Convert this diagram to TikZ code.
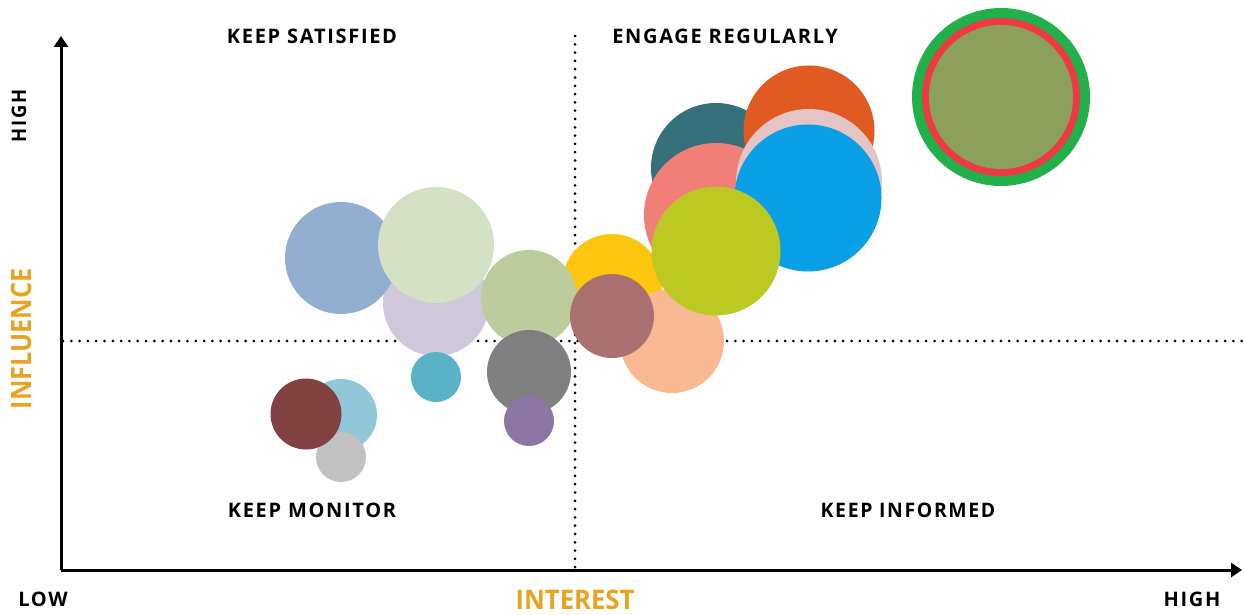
\documentclass[tikz,border=0pt]{standalone}
\usepackage{fontspec}
\setmainfont{Open Sans}
\usetikzlibrary{arrows.meta}
\definecolor{cSteel}{HTML}{92AED1}
\definecolor{cLav}{HTML}{CFC8DB}
\definecolor{cPaleGreen}{HTML}{D5E1C5}
\definecolor{cSage}{HTML}{BDCC9C}
\definecolor{cGray}{HTML}{808080}
\definecolor{cPurple}{HTML}{8C76A6}
\definecolor{cTeal}{HTML}{5AB2C6}
\definecolor{cLightBlue}{HTML}{92C7D9}
\definecolor{cMaroon}{HTML}{824242}
\definecolor{cLightGray}{HTML}{C1C1C1}
\definecolor{cYellow}{HTML}{FEC70F}
\definecolor{cMauve}{HTML}{AB7070}
\definecolor{cPeach}{HTML}{F9B993}
\definecolor{cDarkTeal}{HTML}{36707B}
\definecolor{cSalmon}{HTML}{F27E78}
\definecolor{cYGreen}{HTML}{BDC923}
\definecolor{cOrange}{HTML}{E15A22}
\definecolor{cPalePink}{HTML}{E4C4C4}
\definecolor{cBlue}{HTML}{09A0E8}
\definecolor{cGreen}{HTML}{22B04B}
\definecolor{cRed}{HTML}{EE3A43}
\definecolor{cOlive}{HTML}{8DA05B}
\definecolor{cLabel}{HTML}{E9A320}
\newfontfamily\labfont[LetterSpace=8.5]{Open Sans}
\tikzset{
  bub/.style={circle, draw=none, inner sep=0pt, minimum size=#1},
  quad/.style={font=\labfont\fontsize{20}{20}\selectfont\bfseries, text=black, inner sep=0pt},
  axlab/.style={font=\labfont\fontsize{20}{20}\selectfont\bfseries, text=black, inner sep=0pt},
  axtitle/.style={font=\fontsize{28}{28}\selectfont\bfseries, text=cLabel, inner sep=0pt},
  axisline/.style={line width=3pt, -{Triangle[length=11pt,width=14pt]}},
  dotline/.style={line width=3pt, line cap=round, dash pattern=on 0pt off 8.3pt},
}
\begin{document}
\begin{tikzpicture}[x=1pt,y=-1pt]
\useasboundingbox (0,0) rectangle (1244,615);
% reference coordinates
\coordinate (O) at (61,570);
\coordinate (Ytop) at (61,36);
\coordinate (Xend) at (1242,570);
\coordinate (Vt) at (575,36);
\coordinate (Vb) at (575,568);
\coordinate (Hl) at (63,341);
\coordinate (Hr) at (1244,341);
% dotted quadrant lines
\draw[dotline] (Vt) -- (Vb);
\draw[dotline] (Hl) -- (Hr);
% bubbles, back to front
\node[bub=106pt, fill=cLav] (b1) at (436,303) {};
\node[bub=112pt, fill=cSteel] (b2) at (341,258) {};
\node[bub=116pt, fill=cPaleGreen] (b3) at (436,245) {};
\node[bub=50pt, fill=cTeal] (b4) at (436,377) {};
\node[bub=100pt, fill=cYellow] (b5) at (612,284) {};
\node[bub=104pt, fill=cPeach] (b6) at (672,341) {};
\node[bub=96pt, fill=cSage] (b7) at (529,298) {};
\node[bub=84pt, fill=cGray] (b8) at (529,372) {};
\node[bub=50pt, fill=cPurple] (b9) at (529,421) {};
\node[bub=84pt, fill=cMauve] (b10) at (612,316) {};
\node[bub=72pt, fill=cLightBlue] (b11) at (341,415) {};
\node[bub=50pt, fill=cLightGray] (b12) at (341,457) {};
\node[bub=71pt, fill=cMaroon] (b13) at (306,414) {};
\node[bub=130pt, fill=cDarkTeal] (b14) at (716,168) {};
\node[bub=144pt, fill=cSalmon] (b15) at (716,215) {};
\node[bub=131pt, fill=cOrange] (b16) at (809,131) {};
\node[bub=146pt, fill=cPalePink] (b17) at (809,182) {};
\node[bub=147pt, fill=cBlue] (b18) at (808,198) {};
\node[bub=129pt, fill=cYGreen] (b19) at (716,251) {};
\node[bub=178pt, fill=cGreen] (b20) at (1001,97) {};
\node[bub=158pt, fill=cRed] (b21) at (b20) {};
\node[bub=144pt, fill=cOlive] (b22) at (b20) {};
% axes
\draw[axisline] (O) -- (Ytop);
\draw[axisline] (O) -- (Xend);
% quadrant labels
\node[quad] (q1) at (312,36) {KEEP SATISFIED};
\node[quad] (q2) at (725,36) {ENGAGE REGULARLY};
\node[quad] (q3) at (312,510) {KEEP MONITOR};
\node[quad] (q4) at (908,510) {\scalebox{0.97}[1]{KEEP INFORMED}};
% axis labels
\node[axlab, rotate=90] (yhigh) at (19,116) {\scalebox{0.92}[1]{HIGH}};
\node[axtitle, rotate=90] (ytitle) at (21,339) {\scalebox{0.9}[1]{INFLUENCE}};
\node[axlab] (xlow) at (43,599) {LOW};
\node[axtitle, font=\fontsize{27}{27}\selectfont\bfseries] (xtitle) at (575,600) {\scalebox{0.95}[1]{INTEREST}};
\node[axlab] (xhigh) at (1192,599) {HIGH};
\end{tikzpicture}
\end{document}
